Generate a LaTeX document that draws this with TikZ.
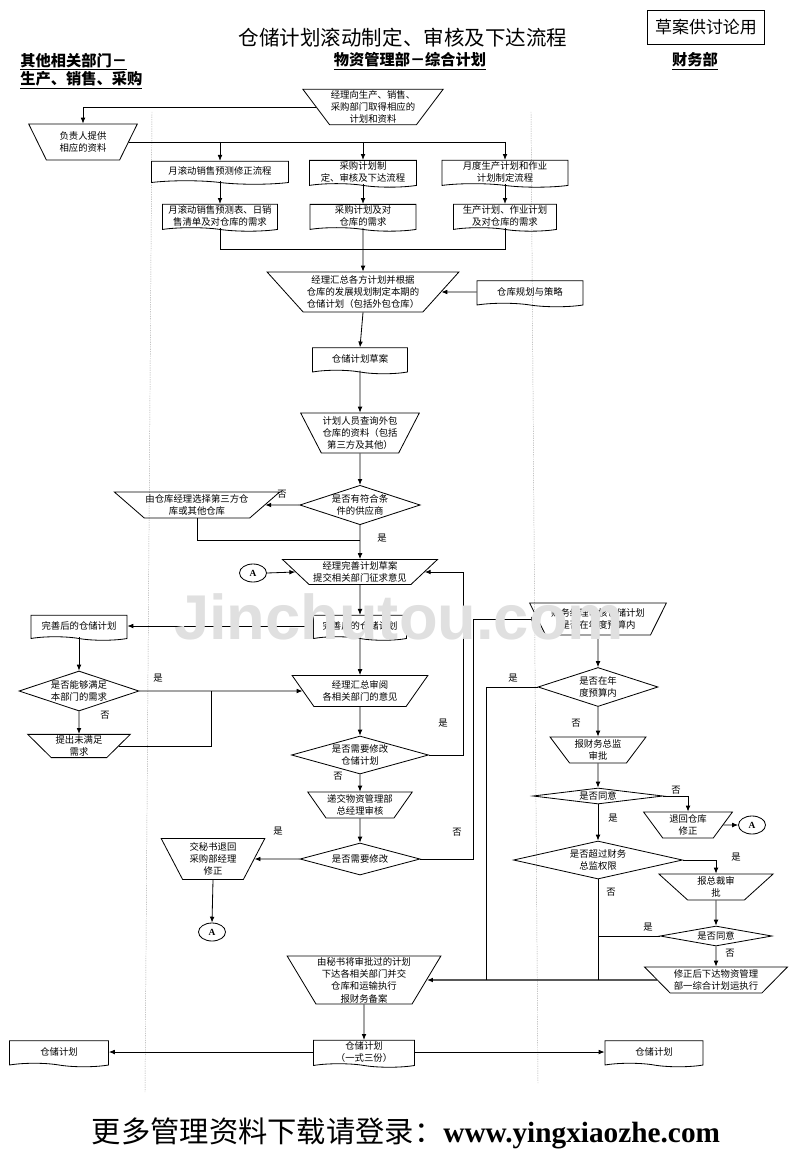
\documentclass[tikz,border=0pt]{standalone}
\usepackage{fontspec}
\setmainfont{Liberation Serif}
\newfontfamily\cjk{Noto Sans CJK SC}
\newfontfamily\wmfont{Liberation Sans}
\usetikzlibrary{shapes.geometric,shapes.symbols,arrows.meta}
\newdimen\pxu \pxu=0.03cm

\tikzset{
  box/.style={font=\cjk\fontsize{8}{10.5}\selectfont, align=center, inner sep=1pt},
  trap/.style args={#1/#2/#3}{box, draw, trapezium, shape border rotate=180,
    trapezium stretches=true, trapezium left angle=#3, trapezium right angle=#3,
    minimum width=#1*\pxu, minimum height=#2*\pxu},
  doc/.style args={#1/#2}{box, draw, tape, tape bend top=none, tape bend bottom=out and in,
    tape bend height=3pt, minimum width=#1*\pxu, minimum height=#2*\pxu},
  dia/.style args={#1/#2/#3}{box, draw, diamond, inner sep=0pt, aspect=#3,
    minimum width=#1*\pxu, minimum height=#2*\pxu},
  conn/.style={draw, ellipse, inner sep=0pt, minimum width=27*\pxu, minimum height=18*\pxu,
    font=\rmfamily\bfseries\fontsize{8}{9}\selectfont},
  lbl/.style={font=\cjk\fontsize{8}{9}\selectfont, inner sep=0pt},
  head/.style={font=\cjk\bfseries\fontsize{13}{15.5}\selectfont, align=left, inner sep=0pt},
  arr/.style={-{Latex[length=5pt,width=4pt]}},
  lane/.style={gray!70, line width=0.4pt, dash pattern=on 1pt off 1pt}
}

\begin{document}
\begin{tikzpicture}[x=0.03cm, y=-0.03cm, line width=0.7pt]
  \fill[white] (0,0) rectangle (800,1154);
  \useasboundingbox (0,0) rectangle (800,1154);

  % heading and lanes
  \node[font=\cjk\fontsize{17.5}{19}\selectfont] (title) at (403,38) {仓储计划滚动制定、审核及下达流程};
  \node[draw, font=\cjk\fontsize{14.5}{16}\selectfont, minimum width=117*\pxu, minimum height=34*\pxu,
    inner sep=0pt] (draft) at (706,27) {草案供讨论用};
  \node[head, anchor=north west] (lane1) at (20,53) {\underline{其他相关部门－}\\\underline{生产、销售、采购}};
  \node[head] (lane2) at (410,61) {\underline{物资管理部－综合计划}};
  \node[head] (lane3) at (695,61) {\underline{财务部}};
  \draw[lane] (152,112) -- (145,1092);
  \draw[lane] (531,112) -- (538,1084);

  % gathering the plans
  \node[trap={137/35/53}] (n1) at (373,107) {经理向生产、销售、\\采购部门取得相应的\\计划和资料};
  \node[trap={109/36/63}] (n2) at (83,142) {负责人提供\\相应的资料};
  \node[doc={137/23}] (d1) at (220,171) {月滚动销售预测修正流程};
  \node[doc={107/24}] (d2) at (363,172) {采购计划制\\定、审核及下达流程};
  \node[doc={126/24}] (d3) at (505,172) {月度生产计划和作业\\计划制定流程};
  \node[doc={115/26}] (e1) at (220,216) {月滚动销售预测表、日销\\售清单及对仓库的需求};
  \node[doc={106/26}] (e2) at (363,216) {采购计划及对\\仓库的需求};
  \node[doc={103/26}] (e3) at (505,216) {生产计划、作业计划\\及对仓库的需求};
  \node[trap={192/40/46}] (n3) at (363,292) {经理汇总各方计划并根据\\仓库的发展规划制定本期的\\仓储计划（包括外包仓库）};
  \node[doc={106/26}] (n4) at (530,292) {仓库规划与策略};
  \draw[arr] (n1.west) -| (n2.north);
  \draw (n2.east) -- (n2.east -| d3.north);
  \foreach \i in {1,2,3} {
    \draw[arr] (n2.east -| d\i.north) -- (d\i.north);
    \draw[arr] (d\i.south) -- (e\i.north);
  }
  \draw (e1.south) -- ++(0,21) -| (e3.south);
  \draw[arr] (e2.south) -- (n3.north);
  \draw[arr] (n4.west) -- (n3.east);

  % draft and outsourcing
  \node[doc={95/26}] (n5) at (360,359) {仓储计划草案};
  \node[trap={117/40/60}] (n6) at (360,433) {计划人员查询外包\\仓库的资料（包括\\第三方及其他）};
  \node[dia={119/39/3.05}] (n7) at (360,505) {是否有符合条\\件的供应商};
  \node[trap={160/26/38}] (n8) at (197,505) {由仓库经理选择第三方仓\\库或其他仓库};
  \node[trap={155/25/43}] (n9) at (360,572) {经理完善计划草案\\提交相关部门征求意见};
  \node[conn] (a1) at (253,573) {A};
  \coordinate (j1) at (360,540);
  \draw[arr] (n3.south) -- (n5.north);
  \draw[arr] (n5.south) -- (n6.north);
  \draw[arr] (n6.south) -- (n7.north);
  \draw[arr] (n7.west) -- (n8.east);
  \draw (n8.south) |- (j1);
  \draw[arr] (n7.south) -- (n9.north);
  \draw[arr] (a1.east) -- (n9.west);
  \node[lbl] (l1) at (282,494) {否};
  \node[lbl] (l2) at (382,538) {是};

  % consulting the departments
  \node[doc={93/25}] (n10) at (360,626) {完善后的仓储计划};
  \node[doc={96/25}] (n11) at (79,626) {完善后的仓储计划};
  \node[dia={120/40/3}] (n12) at (79,691) {是否能够满足\\本部门的需求};
  \node[trap={137/31/52}] (n13) at (360,691) {经理汇总审阅\\各相关部门的意见};
  \node[trap={103/22/48}] (n14) at (79,746) {提出未满足\\需求};
  \node[dia={137/38/3.6}] (n15) at (360,755) {是否需要修改\\仓储计划};
  \node[trap={104/26/52}] (n16) at (360,805) {递交物资管理部\\总经理审核};
  \node[dia={120/32/3.75}] (n17) at (360,859) {是否需要修改};
  \node[trap={104/41/64}] (n18) at (213,859) {交秘书退回\\采购部经理\\修正};
  \node[conn] (a2) at (212,932) {A};
  \coordinate (j2) at (211,691);
  \coordinate (j3) at (463,755);
  \coordinate (j4) at (473,859);
  \draw[arr] (n9.south) -- (n10.north);
  \draw[arr] (n10.west) -- (n11.east);
  \draw[arr] (n11.south) -- (n12.north);
  \draw[arr] (n12.south) -- (n14.north);
  \draw[arr] (n12.east) -- (n13.west);
  \draw (n14.east) -| (j2);
  \draw[arr] (n10.south) -- (n13.north);
  \draw[arr] (n13.south) -- (n15.north);
  \draw[arr] (n15.east) -- (j3) |- (n9.east);
  \draw[arr] (n15.south) -- (n16.north);
  \draw[arr] (n16.south) -- (n17.north);
  \draw[arr] (n17.west) -- (n18.east);
  \draw[arr] (n18.south) -- (a2.north);
  \node[lbl] (l3) at (158,678) {是};
  \node[lbl] (l4) at (105,715) {否};
  \node[lbl] (l5) at (443,723) {是};
  \node[lbl] (l6) at (338,776) {否};
  \node[lbl] (l7) at (278,831) {是};
  \node[lbl] (l8) at (457,832) {否};

  % finance
  \node[trap={137/32/58}] (f1) at (598,619) {财务经理审核仓储计划\\是否在年度预算内};
  \node[dia={120/39/3.1}] (f2) at (598,687) {是否在年\\度预算内};
  \node[trap={96/26/54}] (f3) at (598,750) {报财务总监\\审批};
  \node[dia={130/16/8}] (f4) at (598,796) {是否同意};
  \node[trap={89/26/57}] (f5) at (688,825) {退回仓库\\修正};
  \node[conn] (a3) at (752,825) {A};
  \node[dia={169/38/4.4}] (f6) at (598,860) {是否超过财务\\总监权限};
  \node[trap={115/26/49}] (f7) at (716,887) {报总裁审\\批};
  \node[dia={112/20/5.6}] (f8) at (716,936) {是否同意};
  \node[trap={143/26/44}] (f9) at (716,980) {修正后下达物资管理\\部一综合计划运执行};
  \coordinate (j5) at (486,980);
  \coordinate (j6) at (598,980);
  \draw[arr] (n17.east) -- (j4) |- (f1.west);
  \draw[arr] (f1.south) -- (f2.north);
  \draw[arr] (f2.south) -- (f3.north);
  \draw[arr] (f3.south) -- (f4.north);
  \draw[arr] (f4.east) -| (f5.north);
  \draw[arr] (f5.east) -- (a3.west);
  \draw[arr] (f4.south) -- (f6.north);
  \draw[arr] (f6.east) -| (f7.north);
  \draw[arr] (f7.south) -- (f8.north);
  \draw[arr] (f8.south) -- (f9.north);
  \draw (f2.west) -| (j5);
  \draw (f6.south) -- (j6);
  \draw (f8.west) -| (j6);
  \node[lbl] (l9) at (513,678) {是};
  \node[lbl] (l10) at (576,723) {否};
  \node[lbl] (l11) at (676,790) {否};
  \node[lbl] (l12) at (613,818) {是};
  \node[lbl] (l13) at (736,857) {是};
  \node[lbl] (l14) at (611,892) {否};
  \node[lbl] (l15) at (648,927) {是};
  \node[lbl] (l16) at (730,953) {否};

  % issuing the plan
  \node[trap={147/46/59}] (n19) at (364,980) {由秘书将审批过的计划\\下达各相关部门并交\\仓库和运输执行\\报财务备案};
  \node[doc={101/26}] (n20) at (364,1052) {仓储计划\\（一式三份）};
  \node[doc={99/26}] (n21) at (59,1052) {仓储计划};
  \node[doc={98/26}] (n22) at (654,1052) {仓储计划};
  \draw[arr, line width=1.2pt] (f9.west) -- (n19.east);
  \draw[arr] (n19.south) -- (n20.north);
  \draw[arr] (n20.west) -- (n21.east);
  \draw[arr] (n20.east) -- (n22.west);

  \node[font=\cjk\fontsize{25}{28}\selectfont] (foot) at (406,1133)
    {更多管理资料下载请登录：{\rmfamily\bfseries www.yingxiaozhe.com}};
  \node[font=\wmfont\bfseries\fontsize{54}{54}\selectfont, text=black!12] (wm) at (399,617) {Jinchutou.com};
\end{tikzpicture}
\end{document}
